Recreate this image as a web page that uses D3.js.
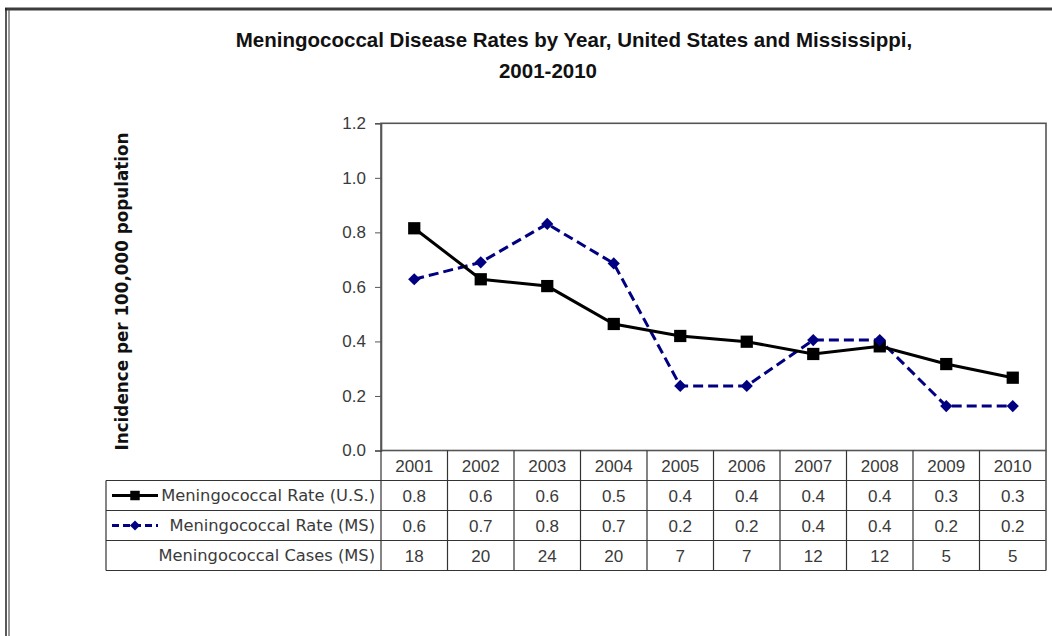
<!DOCTYPE html>
<html>
<head>
<meta charset="utf-8">
<script src="https://cdn.jsdelivr.net/npm/d3@7"></script>
<style>
  html, body { margin: 0; padding: 0; background: #fff; }
  svg { display: block; }
</style>
</head>
<body>
<svg id="chart" width="1052" height="636"></svg>
<script>
// Meningococcal disease rates, U.S. vs Mississippi, 2001-2010
const years = ["2001", "2002", "2003", "2004", "2005", "2006", "2007", "2008", "2009", "2010"];
const usRate = [0.815, 0.628, 0.603, 0.464, 0.420, 0.399, 0.354, 0.382, 0.317, 0.267];
const msRate = [0.628, 0.690, 0.831, 0.686, 0.237, 0.237, 0.405, 0.405, 0.163, 0.163];
const usRateLabels = ["0.8", "0.6", "0.6", "0.5", "0.4", "0.4", "0.4", "0.4", "0.3", "0.3"];
const msRateLabels = ["0.6", "0.7", "0.8", "0.7", "0.2", "0.2", "0.4", "0.4", "0.2", "0.2"];
const msCases = [18, 20, 24, 20, 7, 7, 12, 12, 5, 5];
const yTicks = [0, 0.2, 0.4, 0.6, 0.8, 1.0, 1.2];
const seriesNames = ["Meningococcal Rate (U.S.)", "Meningococcal Rate (MS)", "Meningococcal Cases (MS)"];

const svg = d3.select("#chart");
const plot = { left: 381, right: 1046, top: 123.3, bottom: 450.5 };
const tableLeft = 106;
const rowH = 30;

const x = d3.scaleBand().domain(years).range([plot.left, plot.right]).padding(0);
const y = d3.scaleLinear().domain([0, 1.2]).range([plot.bottom, plot.top]);

const labelFont = "'DejaVu Sans', sans-serif";
const numFont = "'Liberation Sans', Arial, sans-serif";
const textColor = "#3a3a3a";

// outer frame
svg.append("line").attr("x1", 5).attr("x2", 1052).attr("y1", 9).attr("y2", 9)
  .attr("stroke", "#3c3c3c").attr("stroke-width", 3);
svg.append("line").attr("x1", 6).attr("x2", 6).attr("y1", 8).attr("y2", 636)
  .attr("stroke", "#222").attr("stroke-width", 1.5);
svg.append("line").attr("x1", 9).attr("x2", 9).attr("y1", 10).attr("y2", 636)
  .attr("stroke", "#555").attr("stroke-width", 1.2);

// title
const title = svg.append("text").attr("text-anchor", "middle")
  .style("font-family", "'Liberation Sans Narrow', 'Liberation Sans', Arial, sans-serif")
  .style("font-weight", "bold").style("font-size", "20.5px").attr("fill", "#111");
title.append("tspan").attr("x", 574).attr("y", 47)
  .text("Meningococcal Disease Rates by Year, United States and Mississippi,");
title.append("tspan").attr("x", 548).attr("y", 78).text("2001-2010");

// y axis title
svg.append("text")
  .attr("transform", `translate(128, 291.5) rotate(-90)`)
  .attr("text-anchor", "middle")
  .style("font-family", labelFont).style("font-weight", "bold")
  .style("font-size", "16.8px").attr("fill", "#111")
  .text("Incidence per 100,000 population");

// plot frame (top and right)
svg.append("rect").attr("x", plot.left).attr("y", plot.top)
  .attr("width", plot.right - plot.left).attr("height", plot.bottom - plot.top)
  .attr("fill", "none").attr("stroke", "#555").attr("stroke-width", 1.6);

// y axis
const yAxis = d3.axisLeft(y).tickValues(yTicks).tickFormat(d3.format(".1f"))
  .tickSize(6).tickPadding(9);
const gy = svg.append("g").attr("transform", `translate(${plot.left},0)`).call(yAxis);
gy.select(".domain").attr("stroke", "#555").attr("stroke-width", 1.6);
gy.selectAll(".tick line").attr("stroke", "#555");
gy.selectAll(".tick text").style("font-family", numFont).style("font-size", "17px")
  .attr("fill", textColor);

// data table
const table = svg.append("g");
const lineColor = "#333";
const tableBottom = plot.bottom + rowH * 4;
// horizontal rules
[1, 2, 3, 4].forEach(i => {
  table.append("line").attr("x1", tableLeft).attr("x2", plot.right)
    .attr("y1", plot.bottom + rowH * i).attr("y2", plot.bottom + rowH * i)
    .attr("stroke", lineColor).attr("stroke-width", 1.2);
});
// left edge of label column
table.append("line").attr("x1", tableLeft).attr("x2", tableLeft)
  .attr("y1", plot.bottom + rowH).attr("y2", tableBottom)
  .attr("stroke", lineColor).attr("stroke-width", 1.2);
// column dividers
years.forEach(yr => {
  table.append("line").attr("x1", x(yr)).attr("x2", x(yr))
    .attr("y1", plot.bottom).attr("y2", tableBottom)
    .attr("stroke", lineColor).attr("stroke-width", 1.2);
});
table.append("line").attr("x1", plot.right).attr("x2", plot.right)
  .attr("y1", plot.bottom).attr("y2", tableBottom)
  .attr("stroke", "#555").attr("stroke-width", 1.6);

const rows = [years, usRateLabels, msRateLabels, msCases.map(String)];
rows.forEach((vals, r) => {
  vals.forEach((v, i) => {
    table.append("text")
      .attr("x", x(years[i]) + x.bandwidth() / 2)
      .attr("y", plot.bottom + rowH * r + rowH / 2)
      .attr("dy", "0.36em").attr("text-anchor", "middle")
      .style("font-family", numFont).style("font-size", "17px").attr("fill", textColor)
      .text(v);
  });
});
seriesNames.forEach((name, i) => {
  table.append("text")
    .attr("x", plot.left - 6)
    .attr("y", plot.bottom + rowH * (i + 1) + rowH / 2)
    .attr("dy", "0.36em").attr("text-anchor", "end")
    .style("font-family", labelFont).style("font-size", "16.3px").attr("fill", textColor)
    .text(name);
});

// series styling
const usStyle = { color: "#000", dash: null };
const msStyle = { color: "#000080", dash: "10,5" };
const square = d3.symbol().type(d3.symbolSquare).size(150);
const diamond = d3.symbol().type(d3.symbolDiamond2).size(95);

// legend keys in the table
const legendY1 = plot.bottom + rowH * 1.5;
const legendY2 = plot.bottom + rowH * 2.5;
table.append("line").attr("x1", 112).attr("x2", 158).attr("y1", legendY1).attr("y2", legendY1)
  .attr("stroke", usStyle.color).attr("stroke-width", 3);
table.append("path").attr("d", d3.symbol().type(d3.symbolSquare).size(90)())
  .attr("transform", `translate(135,${legendY1})`).attr("fill", usStyle.color);
table.append("line").attr("x1", 112).attr("x2", 158).attr("y1", legendY2).attr("y2", legendY2)
  .attr("stroke", msStyle.color).attr("stroke-width", 3).attr("stroke-dasharray", "7,4");
table.append("path").attr("d", d3.symbol().type(d3.symbolDiamond2).size(65)())
  .attr("transform", `translate(135,${legendY2})`).attr("fill", msStyle.color);

// lines
const line = d3.line().x((d, i) => x(years[i]) + x.bandwidth() / 2).y(d => y(d));
svg.append("path").datum(msRate).attr("d", line).attr("fill", "none")
  .attr("stroke", msStyle.color).attr("stroke-width", 3).attr("stroke-dasharray", msStyle.dash);
svg.append("path").datum(usRate).attr("d", line).attr("fill", "none")
  .attr("stroke", usStyle.color).attr("stroke-width", 3);

svg.append("g").selectAll("path").data(usRate).join("path")
  .attr("d", square())
  .attr("transform", (d, i) => `translate(${x(years[i]) + x.bandwidth() / 2},${y(d)})`)
  .attr("fill", usStyle.color);
svg.append("g").selectAll("path").data(msRate).join("path")
  .attr("d", diamond())
  .attr("transform", (d, i) => `translate(${x(years[i]) + x.bandwidth() / 2},${y(d)})`)
  .attr("fill", msStyle.color);
</script>
</body>
</html>
